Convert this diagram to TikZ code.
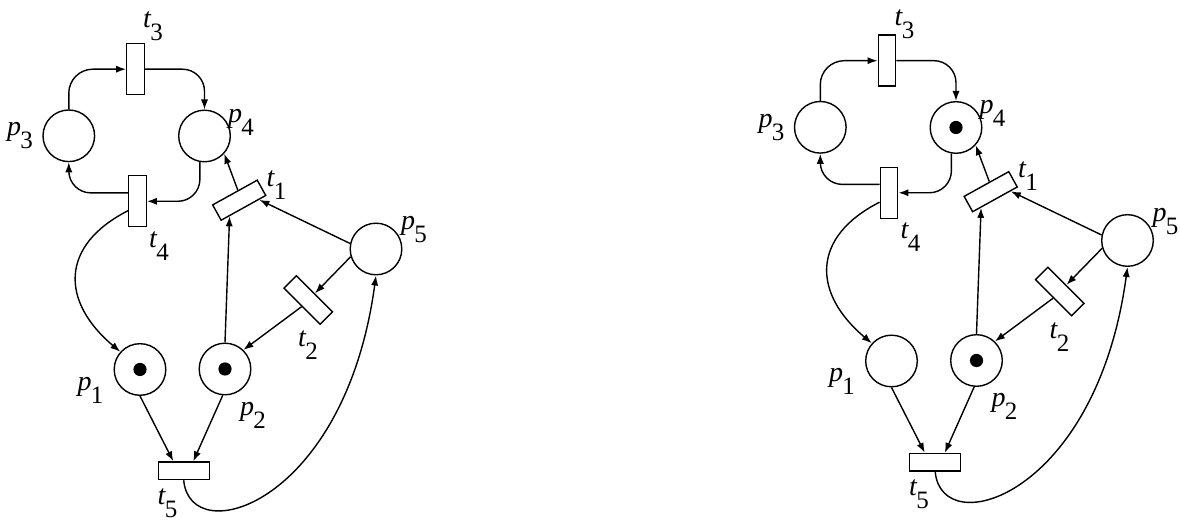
\documentclass[tikz,border=0pt]{standalone}
\usepackage{fontspec}
\setmainfont{Liberation Serif}
\usetikzlibrary{arrows.meta,calc}
\newcommand\lbl[2]{{\fontsize{14}{15}\selectfont\itshape #1}\kern-0.3pt\raisebox{-6.5pt}{\fontsize{12.5}{13}\selectfont #2}}
\begin{document}
\begin{tikzpicture}[x=0.5pt,y=0.5pt,
  place/.style={circle,draw,line width=0.7pt,minimum size=25.8pt,inner sep=0pt},
  trans/.style={rectangle,draw,line width=0.7pt,minimum width=8.75pt,minimum height=25.5pt,inner sep=0pt},
  htrans/.style={rectangle,draw,line width=0.7pt,minimum width=25.5pt,minimum height=8.75pt,inner sep=0pt},
  arc/.style={line width=0.7pt,-{Latex[length=5pt,width=3.6pt]}},
  lab/.style={inner sep=0pt}]
\useasboundingbox (0,0) rectangle (1180,523);
\foreach \n/\dx/\dy/\ty/\tokl in {L/0/0/497/{p1,p2},R/751.5/8.5/490/{p2,p4}}{
\begin{scope}[shift={(\dx,\dy)}]
  \node[place] (\n-p3) at (68.8,387.2) {};
  \node[place] (\n-p4) at (204.5,387) {};
  \node[trans] (\n-t3) at (135.5,453.8) {};
  \node[trans] (\n-t4) at (137.5,321.7) {};
  \node[trans,rotate=-61] (\n-t1) at (239.2,322.8) {};
  \node[place] (\n-p5) at (376,274) {};
  \node[trans,rotate=45] (\n-t2) at (308.3,223) {};
  \node[place] (\n-p1) at (140,153.5) {};
  \node[place] (\n-p2) at (225,154) {};
  \node[htrans] (\n-t5) at (183.7,52.2) {};
  \foreach \k in \tokl {\fill (\n-\k.center) circle (3.3pt);}
  % labels
  \node[lab] (\n-lt3) at (153,\ty) {\lbl{t}{3}};
  \node[lab] (\n-lp3) at (20,387) {\lbl{p}{3}};
  \node[lab] (\n-lp4) at (241,401) {\lbl{p}{4}};
  \node[lab] (\n-lt1) at (276.5,338) {\lbl{t}{1}};
  \node[lab] (\n-lt4) at (159,277) {\lbl{t}{4}};
  \node[lab] (\n-lp5) at (414,293) {\lbl{p}{5}};
  \node[lab] (\n-lt2) at (308,177.5) {\lbl{t}{2}};
  \node[lab] (\n-lp1) at (90.5,133) {\lbl{p}{1}};
  \node[lab] (\n-lp2) at (253,108) {\lbl{p}{2}};
  \node[lab] (\n-lt5) at (167.5,20) {\lbl{t}{5}};
  % arcs
  \draw[arc,rounded corners=12pt] (\n-p3.north) |- (\n-t3.west);
  \draw[arc,rounded corners=11pt] (\n-t3.east) -| (\n-p4.north);
  \draw[arc,rounded corners=11pt] (\n-p4.260) |- (\n-t4.east);
  \draw[arc,rounded corners=11pt] ([yshift=4.2pt]\n-t4.west) -| (\n-p3.south);
  \draw[arc] ([yshift=-4.7pt]\n-t4.west) to[out=207,in=140,looseness=1.4] (\n-p1.138);
  \draw[arc] (\n-p5.168) -- ($(\n-t1.north east)!0.16!(\n-t1.south east)$);
  \draw[arc] (\n-p2.north) -- ($(\n-t1.north east)!0.81!(\n-t1.south east)$);
  \draw[arc] ($(\n-t1.west)!0.14!(\n-t1.north west)$) -- (\n-p4.-42);
  \draw[arc] (\n-p5.197) -- (\n-t2.east);
  \draw[arc] (\n-t2.west) -- (\n-p2.46);
  \draw[arc] (\n-p1.south) -- ([xshift=-5.2pt]\n-t5.north);
  \draw[arc] (\n-p2.265) -- ([xshift=4.8pt]\n-t5.north);
  \draw[arc] (\n-t5.south) .. controls (190,-28) and (345,18) .. (\n-p5.south);
\end{scope}}
\end{tikzpicture}
\end{document}
